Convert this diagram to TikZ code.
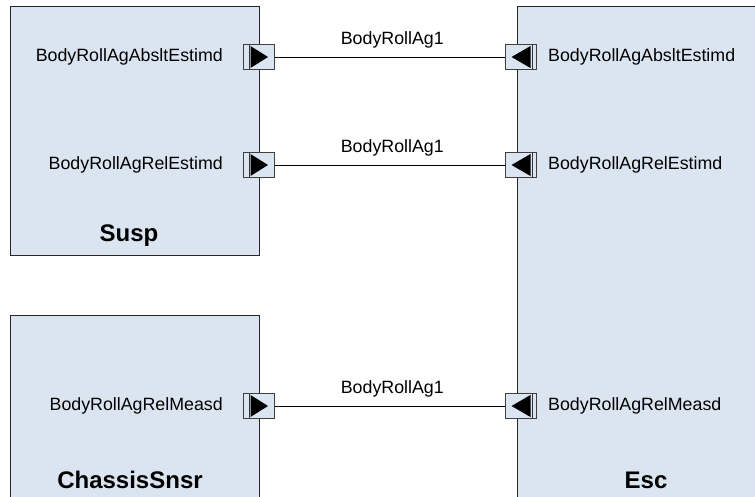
\documentclass[tikz,border=0pt]{standalone}
\usepackage{fontspec}
\setmainfont{Liberation Sans}
\definecolor{boxblue}{RGB}{219,229,241}
\begin{document}
\begin{tikzpicture}[x=1pt,y=-1pt,
  block/.style={draw=black!85, fill=boxblue, line width=1pt, inner sep=0pt, anchor=north west},
  portbox/.style={draw=black!75, fill=boxblue, minimum width=31pt, minimum height=25pt, inner sep=0pt, line width=0.8pt},
  outport/.style={portbox, path picture={
      \draw[black!80, line width=0.9pt] ([xshift=-10pt,yshift=-13pt]path picture bounding box.center) -- ([xshift=-10pt,yshift=13pt]path picture bounding box.center);
      \fill[black] ([xshift=-8.5pt,yshift=-11pt]path picture bounding box.center) -- ([xshift=-8.5pt,yshift=11pt]path picture bounding box.center) -- ([xshift=9pt]path picture bounding box.center) -- cycle;}},
  inport/.style={portbox, path picture={
      \draw[black!80, line width=0.9pt] ([xshift=11pt,yshift=-13pt]path picture bounding box.center) -- ([xshift=11pt,yshift=13pt]path picture bounding box.center);
      \fill[black] ([xshift=9.5pt,yshift=-11pt]path picture bounding box.center) -- ([xshift=9.5pt,yshift=11pt]path picture bounding box.center) -- ([xshift=-9.5pt]path picture bounding box.center) -- cycle;}},
  plabel/.style={font=\fontsize{17.8}{20}\selectfont, inner sep=0pt},
  title/.style={font=\fontsize{24}{28}\selectfont\bfseries, inner sep=0pt},
  conn/.style={draw=black, line width=0.8pt}
]
\useasboundingbox (0,0) rectangle (755,497);
\clip (0,0) rectangle (755,497);
% blocks
\node[block, minimum width=249pt, minimum height=249pt] (susp) at (10,6) {};
\node[block, minimum width=249pt, minimum height=200pt] (chassis) at (10,315) {};
\node[block, minimum width=260pt, minimum height=510pt] (esc) at (517,6) {};
% titles
\node[title] (tsusp) at (129,236) {Susp};
\node[title] (tchassis) at (130,480) {ChassisSnsr};
\node[title] (tesc) at (646,480) {Esc};
% ports
\node[outport] (o1) at (259,57) {};
\node[outport] (o2) at (259,165) {};
\node[outport] (o3) at (259,406) {};
\node[inport] (i1) at (521,57) {};
\node[inport] (i2) at (521,165) {};
\node[inport] (i3) at (521,406) {};
% port labels
\node[plabel, anchor=east] (lo1) at (223,57) {BodyRollAgAbsltEstimd};
\node[plabel, anchor=east] (lo2) at (223,165) {BodyRollAgRelEstimd};
\node[plabel, anchor=east] (lo3) at (223,406) {BodyRollAgRelMeasd};
\node[plabel, anchor=west] (li1) at (548,57) {BodyRollAgAbsltEstimd};
\node[plabel, anchor=west] (li2) at (548,165) {BodyRollAgRelEstimd};
\node[plabel, anchor=west] (li3) at (548,406) {BodyRollAgRelMeasd};
% connectors
\draw[conn] (o1.east) -- node[plabel, pos=0.51, yshift=17pt] (c1) {BodyRollAg1} (i1.west);
\draw[conn] (o2.east) -- node[plabel, pos=0.51, yshift=17pt] (c2) {BodyRollAg1} (i2.west);
\draw[conn] (o3.east) -- node[plabel, pos=0.51, yshift=17pt] (c3) {BodyRollAg1} (i3.west);
\end{tikzpicture}
\end{document}
